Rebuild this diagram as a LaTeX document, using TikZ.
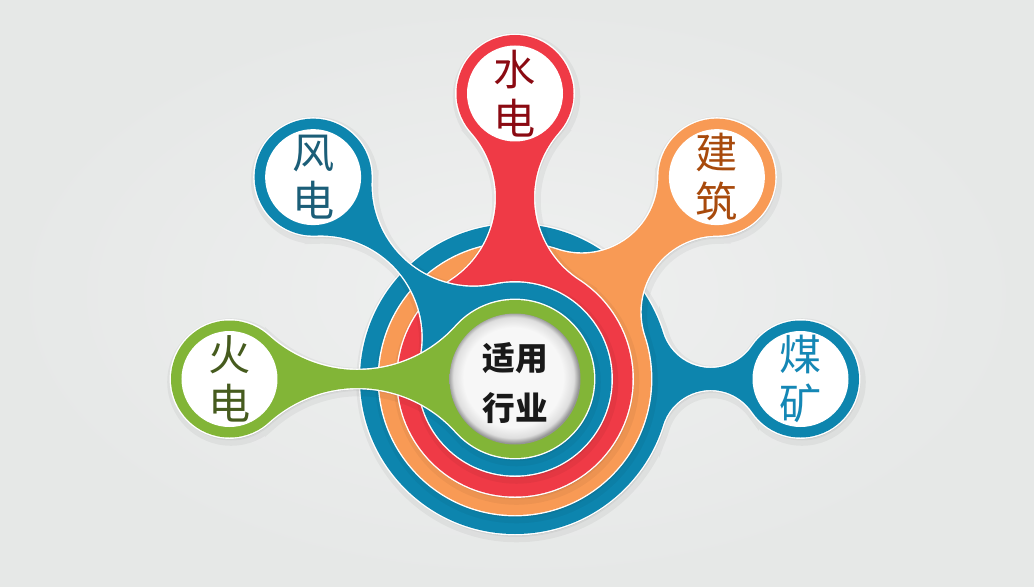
\documentclass[tikz,border=0pt]{standalone}
\usepackage{fontspec}
\newfontfamily\cjk{Noto Sans CJK SC}
\definecolor{ringblue}{HTML}{0D85AE}
\definecolor{ringorange}{HTML}{F89A55}
\definecolor{ringred}{HTML}{EF3A46}
\definecolor{ringgreen}{HTML}{82B537}
\definecolor{bgin}{HTML}{EFF0F0}
\definecolor{bgout}{HTML}{E6E8E7}
\definecolor{hubwhite}{HTML}{F7F7F7}
\definecolor{windtext}{HTML}{1B5E78}
\definecolor{hydrotext}{HTML}{8B0A12}
\definecolor{buildtext}{HTML}{A84A0C}
\definecolor{coaltext}{HTML}{1487B5}
\definecolor{firetext}{HTML}{465B1E}
\pgfdeclareradialshading{hubshade}{\pgfpoint{-1bp}{1bp}}{color(0bp)=(hubwhite); color(19bp)=(hubwhite); color(23bp)=(hubwhite!90!black); color(25bp)=(hubwhite!60!black); color(50bp)=(hubwhite!60!black)}
\tikzset{
  layer shape/.style={insert path={
    (\ang:\ringr) arc[start angle=\ang, delta angle=360, radius=\ringr]
    ([shift={(\ang:\satdist)}]\ang:\satrad) arc[start angle=\ang, delta angle=360, radius=\satrad]
    (\ang-\ta:\ringr) arc[start angle=\ang+180-\ta, end angle=\ang+180-\tb, radius=\fil]
    -- ([shift={(\ang:\satdist)}]\ang+\tb:\satrad)
    arc[start angle=\ang+180+\tb, end angle=\ang+180+\ta, radius=\fil] -- cycle}},
  satlabel/.style={align=center, inner sep=0pt, font=\cjk\fontsize{12}{13.9}\selectfont},
  hublabel/.style={align=center, inner sep=0pt, text=black!90, font=\cjk\bfseries\fontsize{9.3}{14.4}\selectfont}
}
\begin{document}
\begin{tikzpicture}
\def\satdist{2.855}
\def\satrad{0.585}
\shade[inner color=bgin, outer color=bgout] (-5.15,-2.07) rectangle (5.19,3.79);
\foreach \ringr/\neck/\ang/\col in {1.55/.11/0/ringblue, 1.36/.19/45/ringorange, 1.175/.19/90/ringred, .965/.06/135/ringblue, .79/.09/180/ringgreen}{
  \pgfmathsetmacro\cA{(\satdist*\satdist+\ringr*\ringr-\satrad*\satrad)/(2*\satdist)}
  \pgfmathsetmacro\cB{(\ringr-\satrad)/\satdist}
  \pgfmathsetmacro\qb{2*\cA*\cB+2*\neck-2*\ringr}
  \pgfmathsetmacro\qc{\cA*\cA+\neck*\neck-\ringr*\ringr}
  \pgfmathsetmacro\fil{2*\qc/(-\qb+sqrt(\qb*\qb-4*\cB*\cB*\qc))}
  \pgfmathsetmacro\ta{atan2(\neck+\fil,\cA+\cB*\fil)}
  \pgfmathsetmacro\tb{atan2(\neck+\fil,\cA+\cB*\fil-\satdist)}
  \path[shift={(.015,-.03)}, fill=black, draw=black, line width=3pt, opacity=.045, layer shape];
  \path[shift={(.008,-.016)}, fill=black, opacity=.1, layer shape];
  \path[draw=white, line width=.8pt, layer shape];
  \path[fill=\col, layer shape];
  \fill[white] (\ang:\satdist) circle (.48);
}
\shade[shading=hubshade] (0,0) circle (.655);
\node[hublabel] (hub) at (0,-.04) {适用\\行业};
\node[satlabel, text=windtext] (wind) at (135:\satdist) {风\\电};
\node[satlabel, text=hydrotext] (hydro) at (90:\satdist) {水\\电};
\node[satlabel, text=buildtext] (build) at (45:\satdist) {建\\筑};
\node[satlabel, text=coaltext] (coal) at (0:\satdist) {煤\\矿};
\node[satlabel, text=firetext] (fire) at (180:\satdist) {火\\电};
\end{tikzpicture}
\end{document}
